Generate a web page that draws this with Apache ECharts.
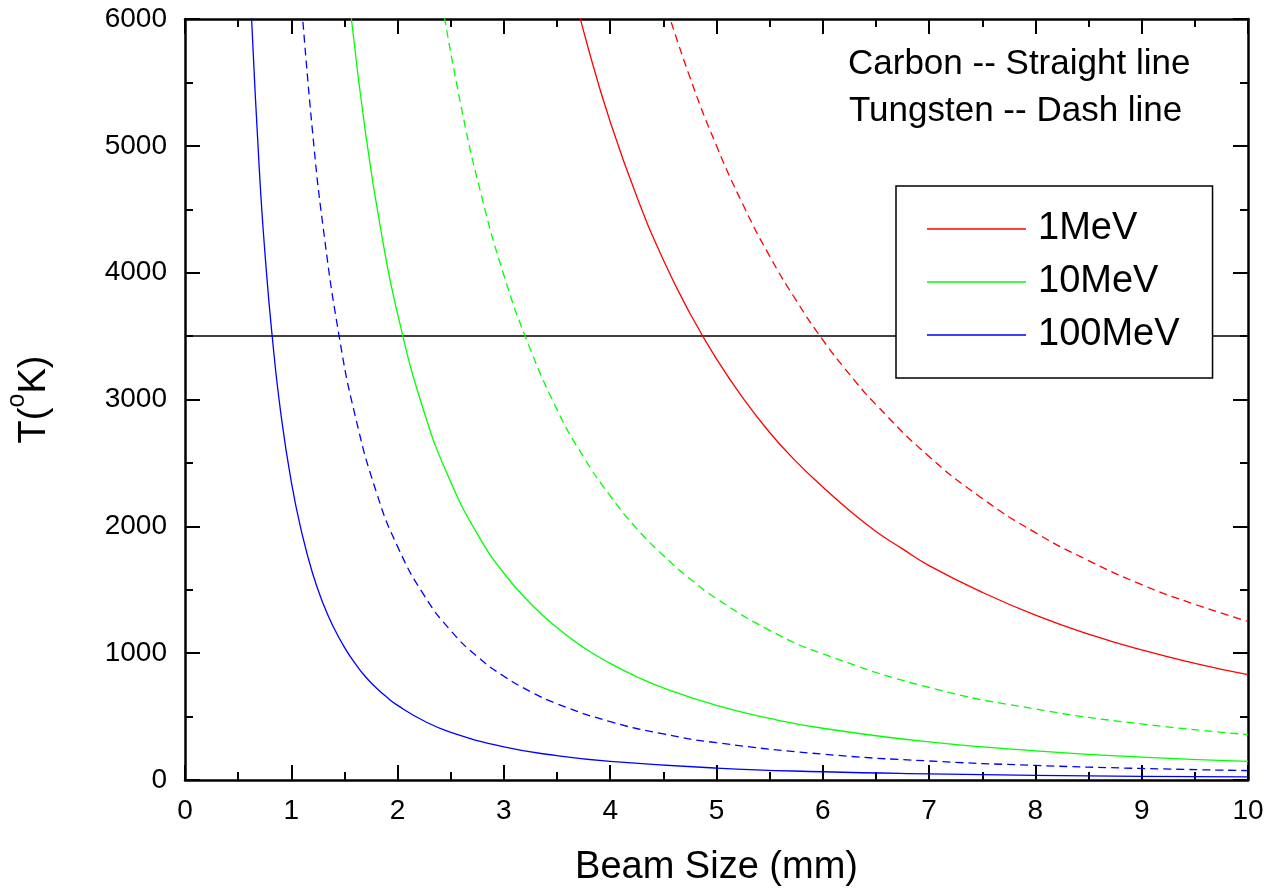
<!DOCTYPE html>
<html>
<head>
<meta charset="utf-8">
<title>Beam size vs temperature</title>
<script src="https://cdn.jsdelivr.net/npm/echarts@6/dist/echarts.min.js"></script>
<style>
  html, body { margin: 0; padding: 0; background: #fff; }
  #main { width: 1267px; height: 888px; }
</style>
</head>
<body>
<div id="main"></div>
<script>
// values, [beam size mm, T K]
const carbon1 = [[3.6, 6400], [3.8, 5750], [4.0, 5190], [4.25, 4600], [4.5, 4100], [4.75, 3680], [5.0, 3320], [5.25, 3010], [5.5, 2740], [5.75, 2510], [6.0, 2310], [6.25, 2125], [6.5, 1960], [6.75, 1822], [7.0, 1690], [7.5, 1480], [8.0, 1300], [8.5, 1150], [9.0, 1025], [9.5, 920], [10.0, 830]];
const tungsten1 = [[4.5, 6170], [4.75, 5540], [5.0, 5000], [5.25, 4535], [5.5, 4130], [5.75, 3781], [6.0, 3470], [6.25, 3200], [6.5, 2960], [7.0, 2550], [7.5, 2220], [8.0, 1950], [8.5, 1730], [9.0, 1540], [9.5, 1385], [10.0, 1250]];
const carbon10 = [[1.55, 6120], [1.7, 5090], [1.85, 4300], [2.0, 3675], [2.25, 2900], [2.5, 2350], [2.75, 1940], [3.0, 1630], [3.25, 1392], [3.5, 1200], [3.75, 1045], [4.0, 920], [4.25, 814], [4.5, 726], [5.0, 588], [5.5, 486], [6.0, 408], [7.0, 300], [8.0, 230], [9.0, 181], [10.0, 147]];
const tungsten10 = [[2.4, 6215], [2.6, 5300], [2.8, 4570], [3.0, 3980], [3.2, 3500], [3.5, 2920], [3.75, 2546], [4.0, 2240], [4.25, 1982], [4.5, 1770], [4.75, 1587], [5.0, 1430], [5.5, 1180], [6.0, 995], [7.0, 730], [8.0, 560], [9.0, 442], [10.0, 358]];
const carbon100 = [[0.62, 6120], [0.7, 4800], [0.76, 4070], [0.82, 3500], [0.9, 2900], [1.0, 2350], [1.1, 1945], [1.2, 1630], [1.3, 1390], [1.4, 1200], [1.5, 1046], [1.6, 920], [1.7, 812], [1.8, 726], [1.9, 652], [2.0, 588], [2.25, 465], [2.5, 376], [3.0, 261], [3.5, 192], [4.0, 147], [5.0, 94], [6.0, 65], [7.0, 48], [8.0, 37], [9.0, 29], [10.0, 24]];
const tungsten100 = [[1.1, 6080], [1.2, 5110], [1.3, 4355], [1.45, 3500], [1.6, 2875], [1.8, 2270], [2.0, 1840], [2.25, 1455], [2.5, 1178], [2.75, 973], [3.0, 818], [3.25, 697], [3.5, 601], [4.0, 460], [4.5, 363], [5.0, 294], [6.0, 204], [7.0, 150], [8.0, 115], [9.0, 91], [10.0, 74]];
const limitT = 3500;
const energies = ['1MeV', '10MeV', '100MeV'];

const FONT = "'Liberation Sans', Arial, sans-serif";
let myChart = echarts.init(document.getElementById('main'));

// axis look shared by all four sides
function axisBase(show, margin) {
	return {
		type: 'value',
		axisLine: { show: true, onZero: false, lineStyle: { color: '#000', width: 2.5 } },
		axisTick: { show: true, inside: true, length: 15, lineStyle: { color: '#000', width: 2 } },
		minorTick: { show: true, splitNumber: 2, length: 8, lineStyle: { color: '#000', width: 2 } },
		splitLine: { show: false },
		axisLabel: {
			show: show, color: '#000', fontSize: 28, fontFamily: FONT, margin: margin,
			formatter: function (v) { return String(v); }
		}
	};
}

function curve(name, data, color, dashed) {
	return {
		name: name,
		type: 'line',
		data: data,
		xAxisIndex: 0,
		yAxisIndex: 0,
		smooth: 0.5,
		showSymbol: false,
		symbol: 'none',
		clip: true,
		lineStyle: { color: color, width: 1.3, type: dashed ? [8, 5] : 'solid' },
		itemStyle: { color: color }
	};
}

let option = {
	animation: false,
	backgroundColor: '#fff',
	grid: { left: 185, right: 19, top: 19, bottom: 108, outerBoundsMode: 'none' },
	xAxis: [
		Object.assign(axisBase(true, 17), {
			position: 'bottom', min: 0, max: 10, interval: 1,
			name: 'Beam Size (mm)', nameLocation: 'middle', nameGap: 69,
			nameTextStyle: { color: '#000', fontSize: 38, fontFamily: FONT }
		}),
		Object.assign(axisBase(false, 8), { position: 'top', min: 0, max: 10, interval: 1 })
	],
	yAxis: [
		Object.assign(axisBase(true, 18), {
			position: 'left', min: 0, max: 6000, interval: 1000,
			name: 'T({sup|o}K)', nameLocation: 'middle', nameRotate: 90, nameGap: 120,
			nameTextStyle: {
				color: '#000', fontSize: 38, fontFamily: FONT, lineHeight: 60,
				rich: { sup: { fontSize: 25, fontFamily: FONT, color: '#000', verticalAlign: 'top', lineHeight: 20 } }
			}
		}),
		Object.assign(axisBase(false, 8), { position: 'right', min: 0, max: 6000, interval: 1000 })
	],
	legend: {
		data: energies,
		orient: 'vertical',
		left: 896,
		top: 186,
		padding: [23, 33, 23, 31],
		itemGap: 13,
		itemWidth: 99,
		itemHeight: 1.5,
		icon: 'rect',
		backgroundColor: '#fff',
		borderColor: '#000',
		borderWidth: 1.5,
		borderRadius: 0,
		textStyle: { color: '#000', fontSize: 38, fontFamily: FONT, lineHeight: 40, padding: [0, 0, 0, 7] }
	},
	graphic: [
		{ type: 'text', left: 848, top: 47, style: { text: 'Carbon -- Straight line', fill: '#000', font: '35px ' + FONT } },
		{ type: 'text', left: 849, top: 94, style: { text: 'Tungsten -- Dash line', fill: '#000', font: '35px ' + FONT } }
	],
	series: [
		{
			name: 'limit', type: 'line', xAxisIndex: 0, yAxisIndex: 0,
			data: [[0, limitT], [10, limitT]], symbol: 'none',
			lineStyle: { color: '#000', width: 1.5 }, itemStyle: { color: '#000' }
		},
		curve(energies[0], carbon1, '#ff0000', false),
		curve('Tungsten ' + energies[0], tungsten1, '#ff0000', true),
		curve(energies[1], carbon10, '#00ff00', false),
		curve('Tungsten ' + energies[1], tungsten10, '#00ff00', true),
		curve(energies[2], carbon100, '#0000ff', false),
		curve('Tungsten ' + energies[2], tungsten100, '#0000ff', true)
	]
};

myChart.setOption(option);
</script>
</body>
</html>
